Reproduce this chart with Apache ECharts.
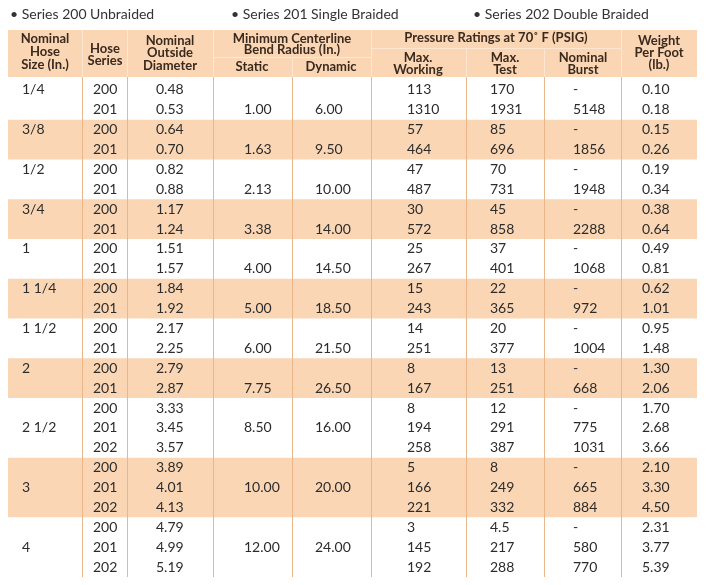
<!DOCTYPE html>
<html>
<head>
<meta charset="utf-8">
<script src="https://cdn.jsdelivr.net/npm/echarts@6/dist/echarts.min.js"></script>
<style>
  html, body { margin: 0; padding: 0; background: #fff; }
  #main { width: 708px; height: 585px; }
</style>
</head>
<body>
<div id="main"></div>
<script>
// table data, one entry per size group
var sizes = ['1/4', '3/8', '1/2', '3/4', '1', '1 1/4', '1 1/2', '2', '2 1/2', '3', '4'];
var groupRows = [2, 2, 2, 2, 2, 2, 2, 2, 3, 3, 3];
var staticRadius = [1.00, 1.63, 2.13, 3.38, 4.00, 5.00, 6.00, 7.75, 8.50, 10.00, 12.00];
var dynamicRadius = [6.00, 9.50, 10.00, 14.00, 14.50, 18.50, 21.50, 26.50, 16.00, 20.00, 24.00];

// one entry per row
var hoseSeries = ['200', '201', '200', '201', '200', '201', '200', '201', '200', '201',
  '200', '201', '200', '201', '200', '201', '200', '201', '202', '200', '201', '202', '200', '201', '202'];
var outsideDiameter = [0.48, 0.53, 0.64, 0.70, 0.82, 0.88, 1.17, 1.24, 1.51, 1.57, 1.84, 1.92,
  2.17, 2.25, 2.79, 2.87, 3.33, 3.45, 3.57, 3.89, 4.01, 4.13, 4.79, 4.99, 5.19];
var maxWorking = [113, 1310, 57, 464, 47, 487, 30, 572, 25, 267, 15, 243, 14, 251, 8, 167,
  8, 194, 258, 5, 166, 221, 3, 145, 192];
var maxTest = [170, 1931, 85, 696, 70, 731, 45, 858, 37, 401, 22, 365, 20, 377, 13, 251,
  12, 291, 387, 8, 249, 332, 4.5, 217, 288];
var nominalBurst = ['-', 5148, '-', 1856, '-', 1948, '-', 2288, '-', 1068, '-', 972, '-', 1004,
  '-', 668, '-', 775, 1031, '-', 665, 884, '-', 580, 770];
var weightPerFoot = [0.10, 0.18, 0.15, 0.26, 0.19, 0.34, 0.38, 0.64, 0.49, 0.81, 0.62, 1.01,
  0.95, 1.48, 1.30, 2.06, 1.70, 2.68, 3.66, 2.10, 3.30, 4.50, 2.31, 3.77, 5.39];

var seriesNotes = ['Series 200 Unbraided', 'Series 201 Single Braided', 'Series 202 Double Braided'];

var PEACH = '#fad6b5';
var LINE = '#ecb68b';
var SEP = '#fde7d3';
var HEAD_TEXT = '#3a2a1e';
var BODY_TEXT = '#2c2c2c';
var FONT = 'Lato, "Open Sans", sans-serif';

// left edge of text in each column
var colX = [22, 93, 156, 244, 315, 407, 490, 573, 642];
var colLines = [82, 127, 213, 292, 371, 466, 544, 621];

var totalRows = hoseSeries.length;

// build band + cell data
var bands = [];
var cells = [];
var start = 0;
sizes.forEach(function (s, g) {
  var n = groupRows[g];
  bands.push([start, n, g]);
  // 3-row groups put size and radius on the middle row
  var sizeRow = n === 3 ? start + 1 : start;
  var radRow = start + 1;
  cells.push([0, sizeRow, s]);
  cells.push([3, radRow, staticRadius[g].toFixed(2)]);
  cells.push([4, radRow, dynamicRadius[g].toFixed(2)]);
  start += n;
});
for (var r = 0; r < totalRows; r++) {
  cells.push([1, r, hoseSeries[r]]);
  cells.push([2, r, outsideDiameter[r].toFixed(2)]);
  cells.push([5, r, String(maxWorking[r])]);
  cells.push([6, r, String(maxTest[r])]);
  cells.push([7, r, String(nominalBurst[r])]);
  cells.push([8, r, weightPerFoot[r].toFixed(2)]);
}

function txt(x, y, s, font, fill, align) {
  return {
    type: 'text', x: x, y: y, z: 10,
    style: {
      text: s, font: font, fill: fill,
      align: align || 'center', verticalAlign: 'middle',
      textAlign: align || 'center', textVerticalAlign: 'middle'
    }
  };
}
function ln(x1, y1, x2, y2, color) {
  return {
    type: 'line', z: 5,
    shape: { x1: x1, y1: y1, x2: x2, y2: y2 },
    style: { stroke: color, lineWidth: 1 }
  };
}

var HF = 'bold 13px ' + FONT;
var graphics = [
  // header block
  { type: 'rect', z: 1, shape: { x: 8, y: 30, width: 689, height: 47 }, style: { fill: PEACH } },
  ln(82.5, 30, 82.5, 77, SEP), ln(127.5, 30, 127.5, 77, SEP), ln(213.5, 30, 213.5, 77, SEP),
  ln(371.5, 30, 371.5, 77, SEP), ln(621.5, 30, 621.5, 77, SEP),
  ln(213, 57.5, 371, 57.5, SEP), ln(292.5, 57, 292.5, 77, SEP),
  ln(371, 48.5, 621, 48.5, SEP), ln(466.5, 48, 466.5, 77, SEP), ln(544.5, 48, 544.5, 77, SEP),
  txt(45, 38.5, 'Nominal', HF, HEAD_TEXT), txt(45, 51.5, 'Hose', HF, HEAD_TEXT), txt(45, 64.5, 'Size (In.)', HF, HEAD_TEXT),
  txt(105, 48.5, 'Hose', HF, HEAD_TEXT), txt(105, 61, 'Series', HF, HEAD_TEXT),
  txt(170, 40.5, 'Nominal', HF, HEAD_TEXT), txt(170, 53, 'Outside', HF, HEAD_TEXT), txt(170, 65.5, 'Diameter', HF, HEAD_TEXT),
  txt(292, 38.5, 'Minimum Centerline', HF, HEAD_TEXT), txt(292, 49.5, 'Bend Radius (In.)', HF, HEAD_TEXT),
  txt(252, 66.5, 'Static', HF, HEAD_TEXT), txt(331, 66.5, 'Dynamic', HF, HEAD_TEXT),
  txt(496, 37.5, 'Pressure Ratings at 70\u02da F (PSIG)', HF, HEAD_TEXT),
  txt(418, 57.5, 'Max.', HF, HEAD_TEXT), txt(418, 69.5, 'Working', HF, HEAD_TEXT),
  txt(505, 57.5, 'Max.', HF, HEAD_TEXT), txt(505, 69.5, 'Test', HF, HEAD_TEXT),
  txt(583, 57.5, 'Nominal', HF, HEAD_TEXT), txt(583, 69.5, 'Burst', HF, HEAD_TEXT),
  txt(659, 40.5, 'Weight', HF, HEAD_TEXT), txt(659, 52.5, 'Per Foot', HF, HEAD_TEXT), txt(659, 64.5, '(lb.)', HF, HEAD_TEXT)
];
// body column lines
colLines.forEach(function (x) {
  graphics.push(ln(x + 0.5, 77, x + 0.5, 577, LINE));
});
// notes above the table
var noteX = [10, 231, 473];
seriesNotes.forEach(function (s, i) {
  graphics.push(txt(noteX[i], 14.5, '\u2022 ' + s, '14px ' + FONT, '#333', 'left'));
});

var chart = echarts.init(document.getElementById('main'));
chart.setOption({
  animation: false,
  grid: { left: 0, right: 0, top: 80, bottom: 8 },
  xAxis: { type: 'value', min: 0, max: 708, show: false },
  yAxis: { type: 'value', min: 0, max: totalRows, inverse: true, show: false },
  graphic: graphics,
  series: [
    {
      type: 'custom',
      z: 1,
      data: bands,
      renderItem: function (params, api) {
        var s = api.value(0), n = api.value(1), g = api.value(2);
        if (g % 2 === 0) return null;
        var p1 = api.coord([8, s]);
        var p2 = api.coord([697, s + n]);
        return {
          type: 'rect',
          shape: { x: p1[0], y: p1[1], width: p2[0] - p1[0], height: p2[1] - p1[1] },
          style: { fill: PEACH }
        };
      }
    },
    {
      type: 'custom',
      z: 3,
      data: cells,
      renderItem: function (params, api) {
        var c = api.value(0), row = api.value(1);
        var label = cells[params.dataIndex][2];
        var p = api.coord([colX[c], row + 0.5]);
        return {
          type: 'text',
          x: p[0], y: p[1],
          style: {
            text: label, font: '14px ' + FONT, fill: BODY_TEXT,
            align: 'left', verticalAlign: 'middle',
            textAlign: 'left', textVerticalAlign: 'middle'
          }
        };
      }
    }
  ]
});
</script>
</body>
</html>
